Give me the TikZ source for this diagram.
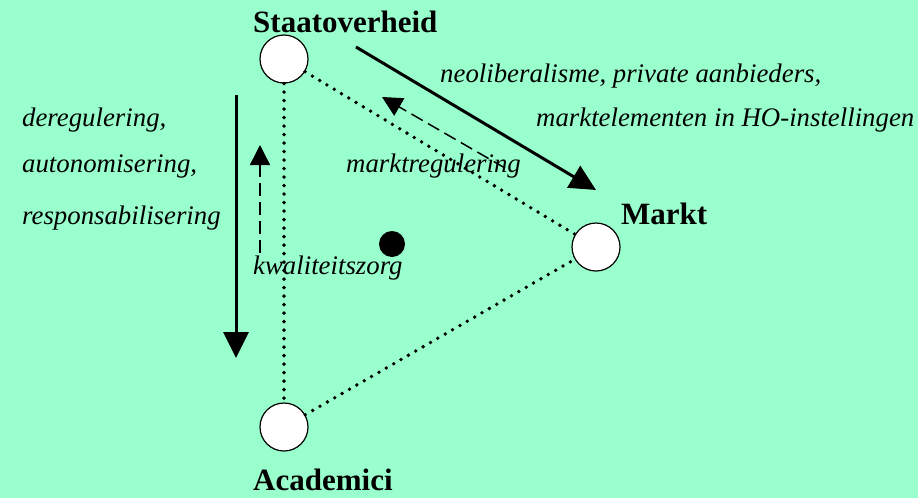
\documentclass[tikz,border=0pt]{standalone}
\usepackage{fontspec}
\setmainfont{Liberation Serif}
\usetikzlibrary{arrows.meta}
\definecolor{bgmint}{RGB}{153,255,204}
\begin{document}
\begin{tikzpicture}[x=1pt,y=-1pt,
  actor/.style={circle,draw=black,fill=white,line width=1.2pt,minimum size=48pt,inner sep=0pt},
  hub/.style={circle,fill=black,minimum size=26pt,inner sep=0pt},
  bigname/.style={anchor=base west,inner sep=0pt,font=\fontsize{31}{36}\selectfont\bfseries},
  itlabel/.style={anchor=base west,inner sep=0pt,font=\fontsize{26.8}{32}\selectfont\itshape},
  dotline/.style={line width=3.8pt,line cap=round,dash pattern=on 0pt off 8.5pt},
  boldarrow/.style={line width=3pt,-{Triangle[length=26pt,width=25pt]}},
  dasharrow/.style={line width=1.5pt,dash pattern=on 13pt off 6pt,-{Triangle[length=20pt,width=20pt]}}]
\fill[bgmint] (0,0) rectangle (918,498);
\useasboundingbox (0,0) rectangle (918,498);
% circles
\node[actor] (staat) at (284,59) {};
\node[actor] (markt) at (596,247) {};
\node[actor] (acad) at (284,427) {};
\node[hub] (mid) at (392,244) {};
% dotted triangle
\draw[dotline] (staat) -- (markt);
\draw[dotline] (staat) -- (acad);
\draw[dotline] (acad) -- (markt);
% names
\node[bigname] (lstaat) at (253,32) {Staatoverheid};
\node[bigname] (lmarkt) at (621,224) {Markt};
\node[bigname] (lacad) at (253,490) {Academici};
% italic labels
\node[itlabel] (l1) at (440,82) {neoliberalisme, private aanbieders,};
\node[itlabel] (l2) at (536,126) {marktelementen in HO-instellingen};
\node[itlabel] (l3) at (346,172) {marktregulering};
\node[itlabel] (l4) at (22,126) {deregulering,};
\node[itlabel] (l5) at (22,172) {autonomisering,};
\node[itlabel] (l6) at (22,224) {responsabilisering};
\node[itlabel] (l7) at (253,274) {kwaliteitszorg};
% arrows
\coordinate (a1s) at (356,47);
\coordinate (a1e) at (596,190);
\draw[boldarrow] (a1s) -- (a1e);
\coordinate (a2s) at (236,95);
\coordinate (a2e) at (236,358);
\draw[boldarrow] (a2s) -- (a2e);
\coordinate (a3s) at (260,253);
\coordinate (a3e) at (260,145);
\draw[dasharrow] (a3s) -- (a3e);
\coordinate (a4s) at (505,168);
\coordinate (a4e) at (382,97);
\draw[dasharrow] (a4s) -- (a4e);
\end{tikzpicture}
\end{document}
